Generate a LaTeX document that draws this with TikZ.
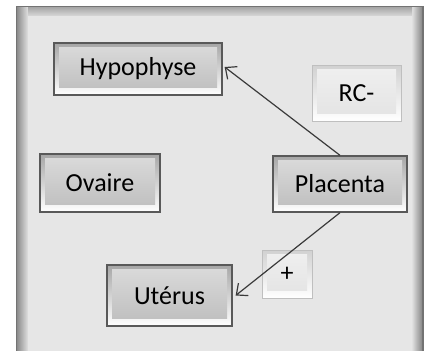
\documentclass[tikz,border=0pt]{standalone}
\usepackage{fontspec}
\setmainfont{Carlito}
\usetikzlibrary{arrows.meta}

\definecolor{fondgris}{HTML}{E6E6E6}
\definecolor{traitgris}{HTML}{3A3A3A}

\tikzset{
    bloc/.style={minimum width=#1, inner sep=0pt, font=\fontsize{26}{30}\selectfont},
    blocfonce/.style={bloc=#1, draw=black!65, line width=1.3pt,
        top color=black!35, bottom color=white,
        path picture={\shade[top color=black!14, bottom color=black!26]
            ([shift={(5pt,8pt)}]path picture bounding box.south west) rectangle
            ([shift={(-5pt,-4pt)}]path picture bounding box.north east);}},
    blocclair/.style={bloc=#1, draw=black!25, line width=0.8pt,
        top color=black!18, bottom color=white,
        path picture={\shade[top color=black!6, bottom color=black!11]
            ([shift={(5pt,8pt)}]path picture bounding box.south west) rectangle
            ([shift={(-5pt,-4pt)}]path picture bounding box.north east);}},
    fleche/.style={draw=traitgris, line width=1.2pt,
        -{Straight Barb[length=9pt,width=16pt,line width=1.2pt]}}
}

\begin{document}
\begin{tikzpicture}[x=1pt,y=-1pt]
    \useasboundingbox (0,0) rectangle (429,351);

    % cadre biseaute
    \fill[black!22] (16,6) rectangle (424,351);
    \shade[left color=black!45, right color=black!12] (17,7) rectangle (28,351);
    \shade[left color=black!12, right color=black!50] (412,7) rectangle (423,351);
    \shade[top color=black!35, bottom color=black!15] (28,7) rectangle (412,16);
    \draw[black!55, line width=1.5pt] (16.5,351) -- (16.5,6.5) -- (423,6.5) -- (423,351);
    \fill[fondgris] (28,16) rectangle (412,351);

    % organes
    \node[blocfonce=168pt, minimum height=52pt] (hypophyse) at (138,69) {Hypophyse};
    \node[blocclair=89pt, minimum height=56pt] (rc) at (356.5,93) {RC-};
    \node[blocfonce=120pt, minimum height=58pt] (ovaire) at (100,183) {Ovaire};
    \node[blocfonce=134pt, minimum height=56pt] (placenta) at (340,184) {Placenta};
    \node[blocfonce=125pt, minimum height=61pt] (uterus) at (169.5,295.5) {Utérus};
    \node[blocclair=50pt, minimum height=48pt] (plus) at (287,274) {+};

    % actions du placenta
    \draw[fleche] (placenta.north) -- ([xshift=2pt,yshift=2pt]hypophyse.east);
    \draw[fleche] (placenta.south) -- ([xshift=3pt]uterus.east);
\end{tikzpicture}
\end{document}
